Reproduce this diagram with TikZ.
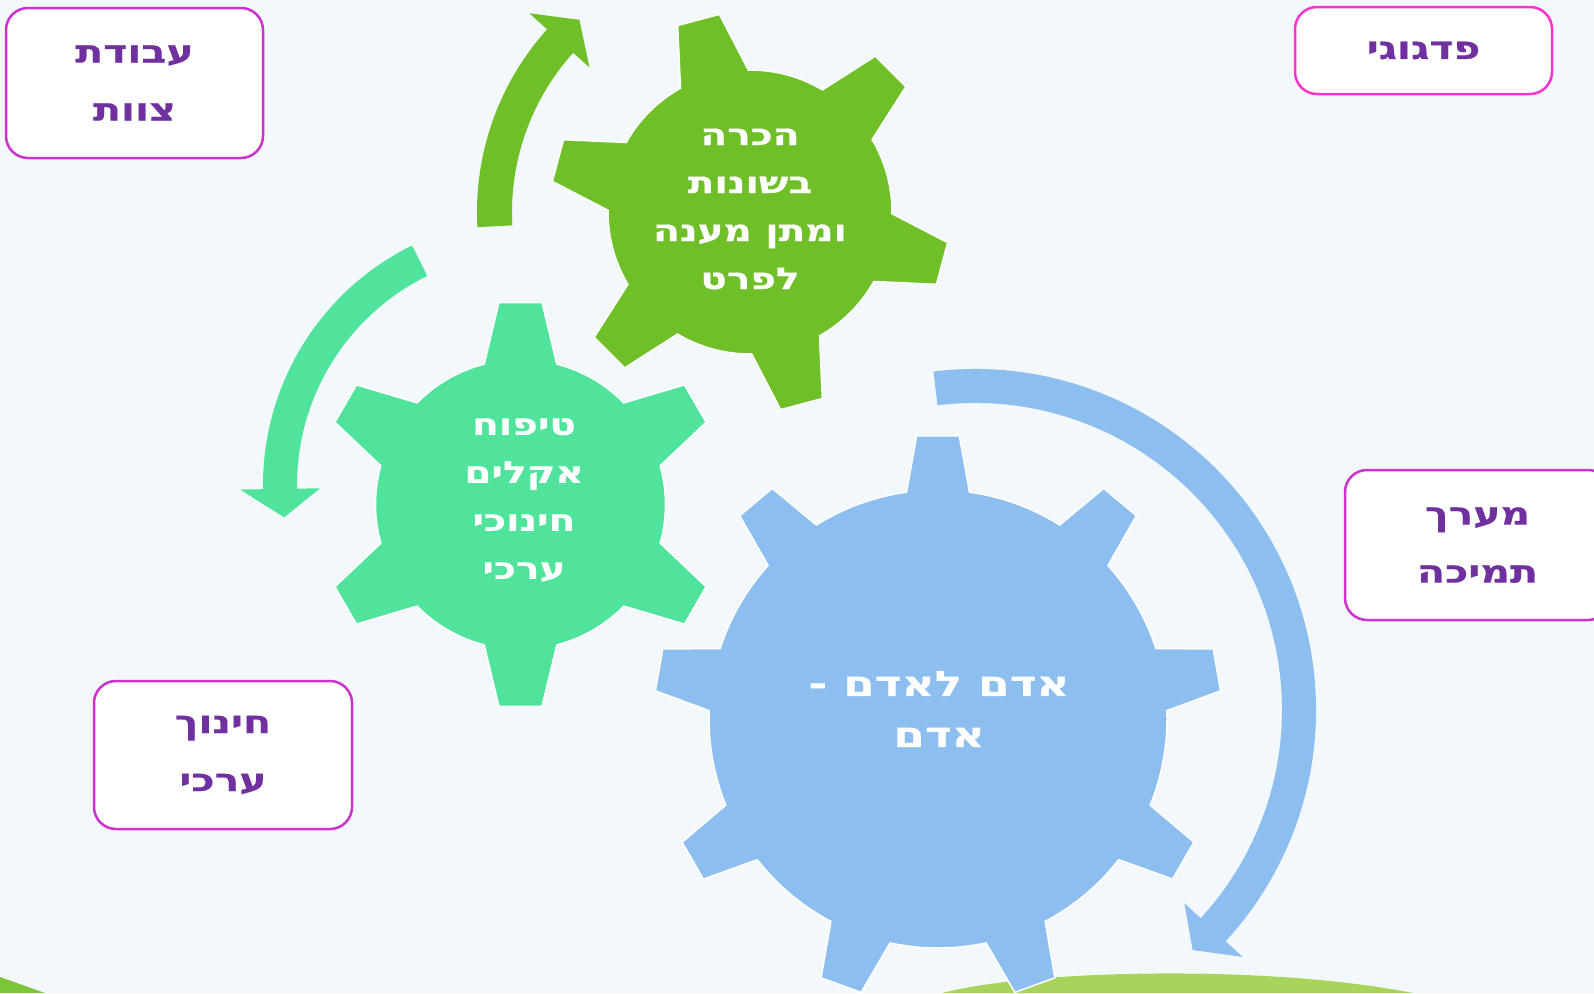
\documentclass[tikz,border=0pt]{standalone}
\usepackage{fontspec}
\newfontfamily\hebfont[Script=Hebrew, FakeStretch=1.3, BoldFeatures={FakeBold=0.5}]{DejaVu Sans}
\TeXXeTstate=1
\definecolor{bg}{HTML}{F3F8FC}
\definecolor{gcol}{HTML}{6FBF29}
\definecolor{mcol}{HTML}{50E39B}
\definecolor{bcol}{HTML}{8CBEF0}
\definecolor{txtpurple}{HTML}{7030A0}
\definecolor{boxline}{HTML}{CC33CC}
\definecolor{boxpink}{HTML}{FF33CC}
\definecolor{grass}{HTML}{A8D45C}
\definecolor{grassdark}{HTML}{7CC43A}
\newcommand\boxfont{\hebfont\bfseries\fontsize{31.5}{58}\selectfont}
\newcommand\gearfont{\hebfont\bfseries\fontsize{30}{48}\selectfont}
\newcommand\bigfont{\hebfont\bfseries\fontsize{35}{51}\selectfont}
% color, cx, cy, n, theta0, R, alpha_base, r_tip, alpha_tip
\newcommand\mygear[9]{%
  \begin{scope}[shift={(#2,#3)}]
  \pgfmathsetmacro\gstep{360/#4}
  \pgfmathtruncatemacro\glast{#4-1}
  \fill[#1, draw=white, line width=1.5pt] ({#5-#7}:#6)
    \foreach \k in {0,...,\glast} {
      -- ({#5+\gstep*\k-#9}:#8) -- ({#5+\gstep*\k+#9}:#8) -- ({#5+\gstep*\k+#7}:#6)
      arc[start angle={#5+\gstep*\k+#7}, end angle={#5+\gstep*(\k+1)-#7}, radius=#6]
    } -- cycle;
  \end{scope}}
\tikzset{
  box/.style={draw=boxline, line width=2.5pt, fill=white, rounded corners=22pt,
    align=center, text=txtpurple, font=\boxfont, inner sep=0pt},
  geartext/.style={text=white, align=center, font=\gearfont, inner sep=0pt},
  shaft/.style={line width=#1pt, line cap=butt},
}
\begin{document}
\begin{tikzpicture}[x=1pt,y=1pt]
\useasboundingbox (0,0) rectangle (1594,-993);
\fill[bg] (0,0) rectangle (1594,-993);
\clip (0,0) rectangle (1594,-993);
% grass
\fill[grass] (942,-993) .. controls (1030,-970) and (1265,-964) .. (1413,-993) -- cycle;
\fill[grassdark] (0,-977) -- (45,-993) -- (0,-993) -- cycle;
% green arrow
\begin{scope}[shift={(750,-212)}]
  \draw[gcol, shaft=35] (183.2:255.5) arc[start angle=183.2, end angle=137.5, radius=255.5];
  \fill[gcol] (138:297) -- (131.6:257) -- (138:216) -- cycle;
\end{scope}
% mint arrow
\begin{scope}[shift={(530,-485)}]
  \draw[mcol, shaft=34] (116.2:250) arc[start angle=116.2, end angle=181.5, radius=250];
  \fill[mcol] (180.9:290) -- (187.5:248) -- (180.9:210) -- cycle;
\end{scope}
% blue arrow
\begin{scope}[shift={(975,-710)}]
  \draw[bcol, shaft=34] (97:324) arc[start angle=97, end angle=-43.2, radius=324];
  \fill[bcol] (-42.7:285) -- (-47.8:324) -- (-42.7:364) -- cycle;
\end{scope}
% gears
\mygear{gcol}{750}{-212}{6}{105}{142}{14.3}{200}{6.2}
\mygear{mcol}{520.5}{-504.5}{6}{90}{145}{14.5}{203}{6.1}
\mygear{bcol}{938}{-719}{9}{90}{229}{7.9}{284}{4.3}
% gear texts
\node[geartext] (tg) at (750,-209) {\beginR הכרה\endR\\\beginR בשונות\endR\\\beginR ומתן מענה\endR\\\beginR לפרט\endR};
\node[geartext] (tm) at (524,-500) {\beginR טיפוח\endR\\\beginR אקלים\endR\\\beginR חינוכי\endR\\\beginR ערכי\endR};
\node[geartext, font=\bigfont] (tb) at (939,-709) {\beginR אדם לאדם -\endR\\\beginR אדם\endR};
% boxes
\node[box, minimum width=257pt, minimum height=150pt] (b1) at (134.5,-83) {\beginR עבודת\endR\\\beginR צוות\endR};
\node[box, draw=boxpink, minimum width=257pt, minimum height=87pt] (b2) at (1423.5,-50.5) {\beginR פדגוגי\endR};
\node[box, minimum width=265pt, minimum height=150pt] (b3) at (1477.5,-545) {\beginR מערך\endR\\\beginR תמיכה\endR};
\node[box, minimum width=258pt, minimum height=148pt] (b4) at (223,-755) {\beginR חינוך\endR\\\beginR ערכי\endR};
\end{tikzpicture}
\end{document}
